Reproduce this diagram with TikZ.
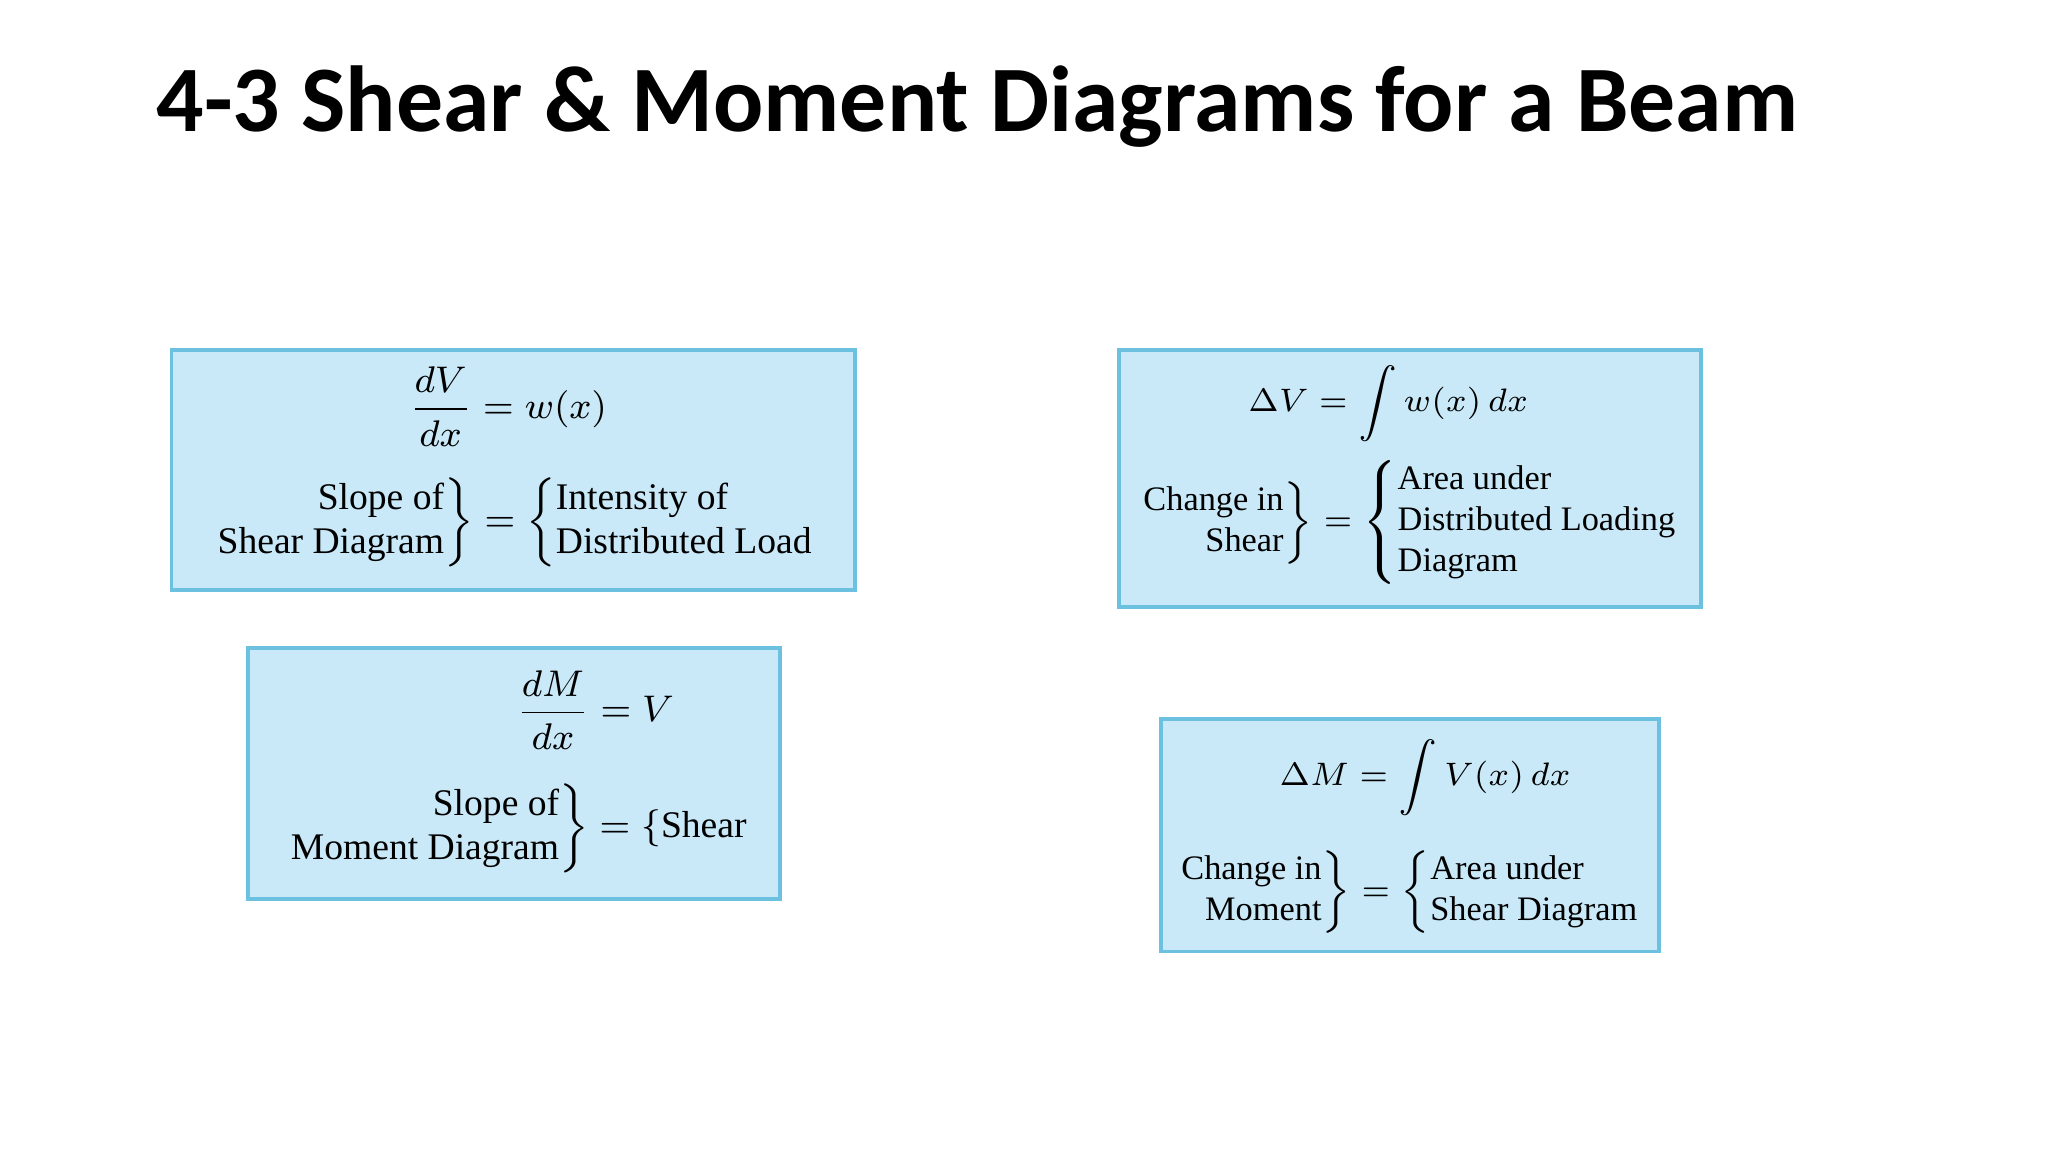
\documentclass[tikz,border=0pt]{standalone}
\usepackage{amsmath}
\usepackage{fontspec}
\setmainfont{Liberation Serif}
\newfontfamily\titlefont{Carlito}
\definecolor{boxfill}{HTML}{C9E9F8}
\definecolor{boxline}{HTML}{6CC0E0}
\tikzset{panel/.style={draw=boxline,line width=0.8pt,fill=boxfill},
 txt/.style={inner sep=0pt,anchor=center,font=\fontsize{8.1}{9.5}\selectfont},
 txtb/.style={inner sep=0pt,anchor=center,font=\fontsize{7.4}{8.8}\selectfont}}
\begin{document}
\begin{tikzpicture}[x=0.01cm,y=-0.01cm]
\useasboundingbox[fill=white] (0,0) rectangle (1552,873);
\node[anchor=base west,inner sep=0pt,font=\titlefont\bfseries\fontsize{20.2}{24}\selectfont] (title) at (118,100) {4-3 Shear \& Moment Diagrams for a Beam};
% box 1
\draw[panel] (130,265) rectangle (648,447);
\node[txt] (e1) at (385,308) {$\dfrac{dV}{dx} = w(x)$};
\node[txt] (t1) at (390,396) {$\left.\begin{tabular}{@{}r@{}}Slope of\\Shear Diagram\end{tabular}\right\} = \left\{\begin{tabular}{@{}l@{}}Intensity of\\Distributed Load\end{tabular}\right.$};
% box 2
\draw[panel] (188,491) rectangle (591,681);
\node[txt] (e2) at (451,538) {$\dfrac{dM}{dx} = V$};
\node[txt] (t2) at (391,628) {$\left.\begin{tabular}{@{}r@{}}Slope of\\Moment Diagram\end{tabular}\right\} = \{$Shear};
% box 3
\draw[panel] (848,265) rectangle (1289,460);
\node[txtb] (e3) at (1052,306) {$\Delta V = \displaystyle\int w(x)\,dx$};
\node[txtb] (t3) at (1068,396) {$\left.\begin{tabular}{@{}r@{}}Change in\\Shear\end{tabular}\right\} = \left\{\begin{tabular}{@{}l@{}}Area under\\Distributed Loading\\Diagram\end{tabular}\right.$};
% box 4
\draw[panel] (880,545) rectangle (1257,721);
\node[txtb] (e4) at (1080,589) {$\Delta M = \displaystyle\int V(x)\,dx$};
\node[txtb] (t4) at (1068,676) {$\left.\begin{tabular}{@{}r@{}}Change in\\Moment\end{tabular}\right\} = \left\{\begin{tabular}{@{}l@{}}Area under\\Shear Diagram\end{tabular}\right.$};
\end{tikzpicture}
\end{document}
